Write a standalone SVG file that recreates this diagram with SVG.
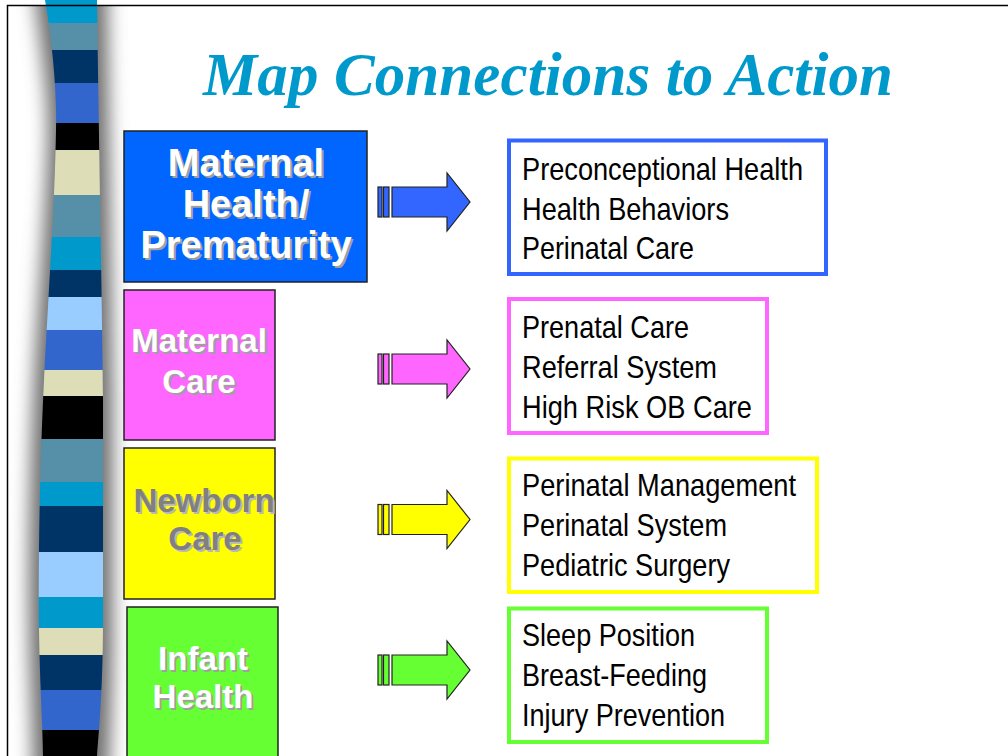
<svg xmlns="http://www.w3.org/2000/svg" xmlns:xlink="http://www.w3.org/1999/xlink" width="1008" height="756" viewBox="0 0 1008 756">
<style>
.lbl{font-family:"Liberation Sans",Arial,sans-serif;font-weight:bold;text-anchor:middle}
.sh{fill:#a0a0a0}
.wt{fill:#ffffff}
.item{font-family:"Liberation Sans Narrow","Liberation Sans",Arial,sans-serif;font-size:32px;fill:#000}
.lbox{stroke:#222;stroke-width:1.5}
.rbox{fill:#fff;stroke-width:4}
.arr{stroke:#222;stroke-width:1.2}
</style>
<defs>
<filter id="blur" x="-1" y="-0.2" width="3" height="1.4"><feGaussianBlur stdDeviation="9"/></filter>
<clipPath id="barclip"><path id="barshape" d="M45,0 C52,40 57,90 56,130 C55,200 48,300 44,380 C40,460 38,560 39,630 C40,690 43,730 43,756 L97,756 C100,720 103,680 103,620 L103,400 C102,300 99,150 97,0 Z"/></clipPath>
<clipPath id="pageclip"><rect x="8" y="6" width="1000" height="750"/></clipPath>
<g id="arrow" class="arr">
<rect x="378" y="-15" width="4" height="30"/>
<rect x="383.5" y="-15" width="5.5" height="30"/>
<path d="M392,-15 L447,-15 L447,-29 L470,0 L447,29 L447,15 L392,15 Z"/>
</g>
</defs>
<rect width="1008" height="756" fill="#fff"/>
<g id="sidebar">
<g clip-path="url(#pageclip)">
<path d="M30,-40 C40,40 48,90 48,130 C47,200 38,300 34,380 C30,460 28,560 29,630 C30,690 33,730 33,800 L108,800 C111,720 113,680 113,620 L113,400 C112,300 109,150 107,-40 Z" fill="#707070" filter="url(#blur)"/>
</g>
<g clip-path="url(#barclip)">
<rect x="30" y="0" width="80" height="23" fill="#0099CC"/>
<rect x="30" y="23" width="80" height="27" fill="#5590A8"/>
<rect x="30" y="50" width="80" height="33" fill="#003366"/>
<rect x="30" y="83" width="80" height="40" fill="#3366CC"/>
<rect x="30" y="123" width="80" height="27" fill="#000000"/>
<rect x="30" y="150" width="80" height="45" fill="#DDDDB8"/>
<rect x="30" y="195" width="80" height="42" fill="#5590A8"/>
<rect x="30" y="237" width="80" height="33" fill="#0099CC"/>
<rect x="30" y="270" width="80" height="27" fill="#003366"/>
<rect x="30" y="297" width="80" height="33" fill="#99CCFF"/>
<rect x="30" y="330" width="80" height="40" fill="#3366CC"/>
<rect x="30" y="370" width="80" height="26" fill="#DDDDB8"/>
<rect x="30" y="396" width="80" height="43" fill="#000000"/>
<rect x="30" y="439" width="80" height="43" fill="#5590A8"/>
<rect x="30" y="482" width="80" height="24" fill="#0099CC"/>
<rect x="30" y="506" width="80" height="46" fill="#003366"/>
<rect x="30" y="552" width="80" height="45" fill="#99CCFF"/>
<rect x="30" y="597" width="80" height="31" fill="#0099CC"/>
<rect x="30" y="628" width="80" height="27" fill="#DDDDB8"/>
<rect x="30" y="655" width="80" height="35" fill="#003366"/>
<rect x="30" y="690" width="80" height="40" fill="#3366CC"/>
<rect x="30" y="730" width="80" height="26" fill="#000000"/>
</g>
</g>
<path d="M7.5,756 L7.5,5.5 L1008,5.5" fill="none" stroke="#000" stroke-width="1.5"/>
<text id="title" x="548" y="95" font-family="'Liberation Serif','Times New Roman',serif" font-weight="bold" font-style="italic" font-size="61" fill="#0099CC" text-anchor="middle" textLength="690">Map Connections to Action</text>

<g id="node-maternal-health">
<rect class="lbox" x="124" y="131" width="243" height="151" fill="#0066FF"/>
<g class="lbl" font-size="38">
<text class="sh" x="248" y="178">Maternal</text>
<text class="sh" x="248" y="219">Health/</text>
<text class="sh" x="248" y="260">Prematurity</text>
<text class="wt" x="246" y="176">Maternal</text>
<text class="wt" x="246" y="217">Health/</text>
<text class="wt" x="246" y="258">Prematurity</text>
</g>
</g>
<g id="node-maternal-care">
<rect class="lbox" x="124" y="290" width="151" height="150" fill="#FF66FF"/>
<g class="lbl" font-size="33">
<text class="sh" x="201" y="354">Maternal</text>
<text class="sh" x="201" y="395">Care</text>
<text class="wt" x="199" y="352">Maternal</text>
<text class="wt" x="199" y="393">Care</text>
</g>
</g>
<g id="node-newborn-care">
<rect class="lbox" x="124" y="448" width="151" height="151" fill="#FFFF00"/>
<g class="lbl" font-size="33">
<text fill="#b8b8b8" x="206" y="514">Newborn</text>
<text fill="#b8b8b8" x="207" y="552">Care</text>
<text fill="#808080" x="204" y="512">Newborn</text>
<text fill="#808080" x="205" y="550">Care</text>
</g>
</g>
<g id="node-infant-health">
<rect class="lbox" x="127" y="607" width="151" height="160" fill="#66FF33"/>
<g class="lbl" font-size="33">
<text class="sh" x="205" y="672">Infant</text>
<text class="sh" x="205" y="710">Health</text>
<text class="wt" x="203" y="670">Infant</text>
<text class="wt" x="203" y="708">Health</text>
</g>
</g>

<g id="connectors">
<use xlink:href="#arrow" href="#arrow" y="202" fill="#3366FF"/>
<use xlink:href="#arrow" href="#arrow" y="369" fill="#FF66FF"/>
<use xlink:href="#arrow" href="#arrow" y="519.5" fill="#FFFF00"/>
<use xlink:href="#arrow" href="#arrow" y="670" fill="#66FF33"/>
</g>

<g id="node-actions-1">
<rect class="rbox" x="509" y="140.5" width="317" height="133.5" stroke="#3366FF"/>
<text class="item" x="522" y="180" textLength="281" lengthAdjust="spacingAndGlyphs">Preconceptional Health</text>
<text class="item" x="522" y="219.5" textLength="207" lengthAdjust="spacingAndGlyphs">Health Behaviors</text>
<text class="item" x="522" y="258.5" textLength="172" lengthAdjust="spacingAndGlyphs">Perinatal Care</text>
</g>
<g id="node-actions-2">
<rect class="rbox" x="509" y="299" width="258" height="134" stroke="#FF66FF"/>
<text class="item" x="522" y="337.5" textLength="167" lengthAdjust="spacingAndGlyphs">Prenatal Care</text>
<text class="item" x="522" y="377.5" textLength="195" lengthAdjust="spacingAndGlyphs">Referral System</text>
<text class="item" x="522" y="418" textLength="230" lengthAdjust="spacingAndGlyphs">High Risk OB Care</text>
</g>
<g id="node-actions-3">
<rect class="rbox" x="509" y="458.5" width="308" height="133.5" stroke="#FFFF00"/>
<text class="item" x="522" y="496" textLength="274" lengthAdjust="spacingAndGlyphs">Perinatal Management</text>
<text class="item" x="522" y="536" textLength="205" lengthAdjust="spacingAndGlyphs">Perinatal System</text>
<text class="item" x="522" y="576" textLength="208" lengthAdjust="spacingAndGlyphs">Pediatric Surgery</text>
</g>
<g id="node-actions-4">
<rect class="rbox" x="509" y="608.5" width="258" height="133.5" stroke="#66FF33"/>
<text class="item" x="522" y="646" textLength="173" lengthAdjust="spacingAndGlyphs">Sleep Position</text>
<text class="item" x="522" y="686" textLength="185" lengthAdjust="spacingAndGlyphs">Breast-Feeding</text>
<text class="item" x="522" y="726" textLength="203" lengthAdjust="spacingAndGlyphs">Injury Prevention</text>
</g>
</svg>
